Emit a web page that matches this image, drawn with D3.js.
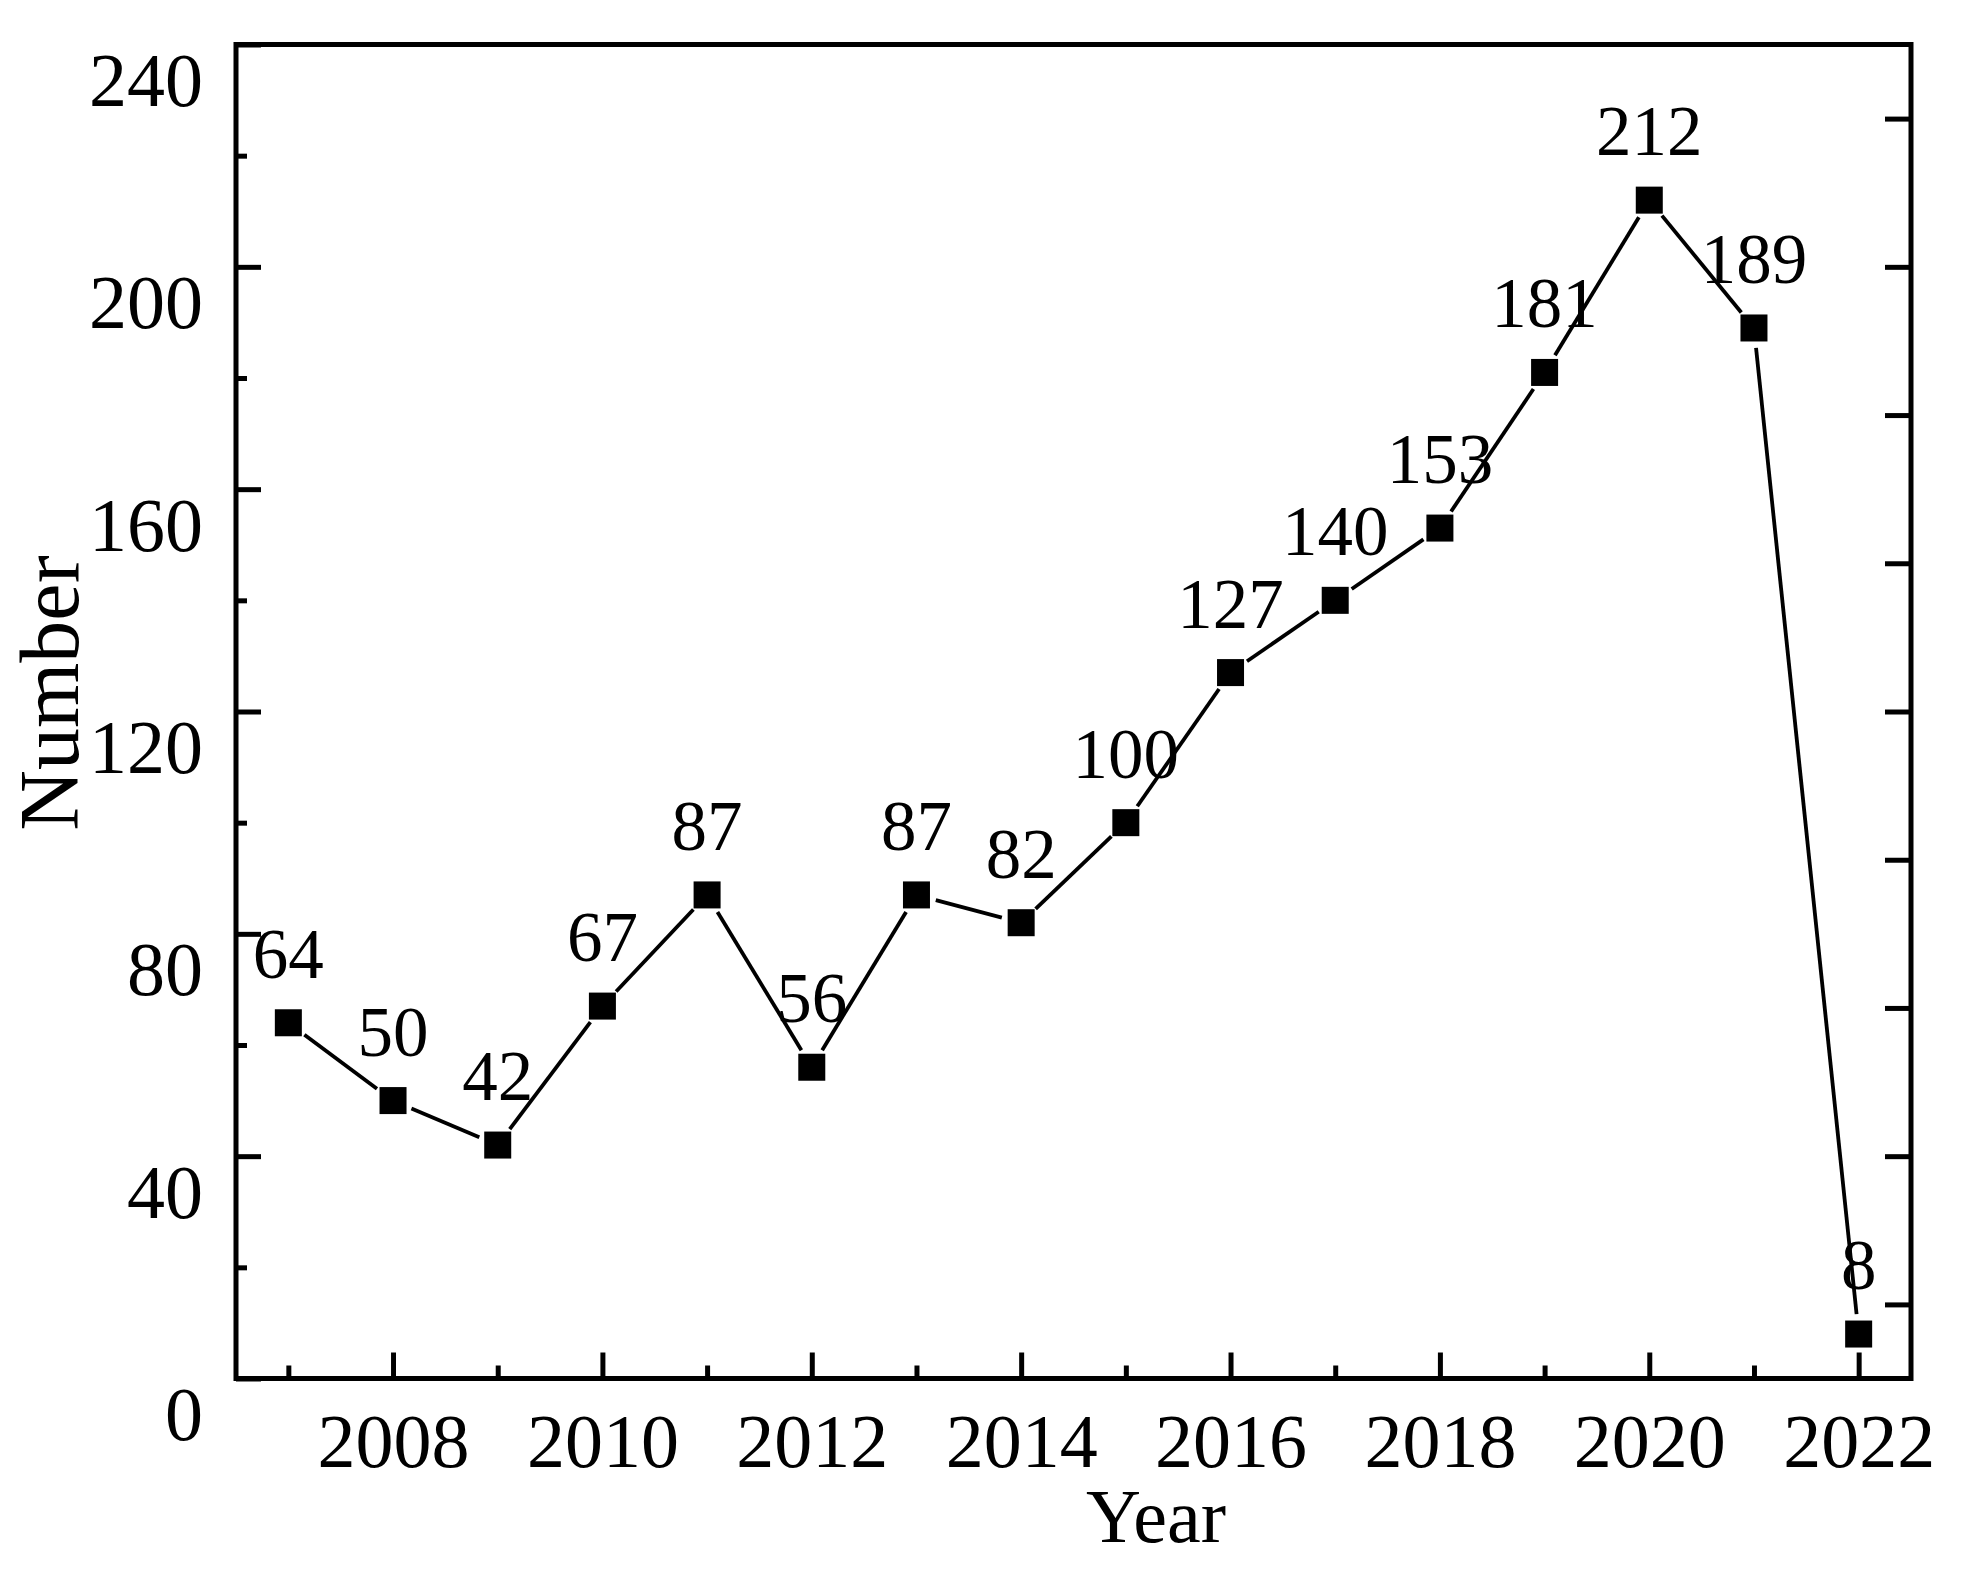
<!DOCTYPE html>
<html>
<head>
<meta charset="utf-8">
<script src="https://cdn.jsdelivr.net/npm/d3@7"></script>
<style>
  html, body { margin: 0; padding: 0; background: #fff; }
  svg { display: block; }
</style>
</head>
<body>
<svg id="chart" width="1968" height="1571"></svg>
<script>
// ---- data ----
const years = [2007, 2008, 2009, 2010, 2011, 2012, 2013, 2014, 2015, 2016, 2017, 2018, 2019, 2020, 2021, 2022];
const counts = [64, 50, 42, 67, 87, 56, 87, 82, 100, 127, 140, 153, 181, 212, 189, 8];
const xMajorTicks = [2008, 2010, 2012, 2014, 2016, 2018, 2020, 2022];
const xMinorTicks = [2007, 2009, 2011, 2013, 2015, 2017, 2019, 2021];
const yMajorTicks = [0, 40, 80, 120, 160, 200, 240];
const yMinorTicks = [20, 60, 100, 140, 180, 220];
const yRightTicks = [13.33, 40, 66.67, 93.33, 120, 146.67, 173.33, 200, 226.67];
const xTitle = "Year";
const yTitle = "Number";

// ---- layout ----
const L = 236, R = 1911, T = 44.5, B = 1378.5;
const FONT = "'Liberation Serif', 'Times New Roman', serif";
const svg = d3.select("#chart");

const x = d3.scaleLinear().domain([2006.5, 2022.5]).range([L, R]);
const y = d3.scaleLinear().domain([0, 240]).range([B, T]);

function styleAxis(g) {
  g.attr("font-family", FONT);
  g.select(".domain").remove();
  g.selectAll(".tick line").attr("stroke", "#000").attr("stroke-width", 5);
}

// bottom major
const gxMaj = svg.append("g").attr("transform", `translate(0,${B})`)
  .call(d3.axisBottom(x).tickValues(xMajorTicks).tickSize(-26).tickFormat(d3.format("d")));
styleAxis(gxMaj);
gxMaj.selectAll(".tick text")
  .attr("y", null).attr("dy", null)
  .attr("fill", "#000").attr("font-size", 76)
  .attr("text-anchor", "middle")
  .attr("transform", "translate(0,88)");

// bottom minor
const gxMin = svg.append("g").attr("transform", `translate(0,${B})`)
  .call(d3.axisBottom(x).tickValues(xMinorTicks).tickSize(-13).tickFormat(""));
styleAxis(gxMin);

// left major
const gyMaj = svg.append("g").attr("transform", `translate(${L},0)`)
  .call(d3.axisLeft(y).tickValues(yMajorTicks).tickSize(-25).tickFormat(d3.format("d")));
styleAxis(gyMaj);
gyMaj.selectAll(".tick text")
  .attr("x", null).attr("dy", null)
  .attr("fill", "#000").attr("font-size", 76)
  .attr("text-anchor", "end")
  .attr("transform", "translate(-33,61)");

// left minor
const gyMin = svg.append("g").attr("transform", `translate(${L},0)`)
  .call(d3.axisLeft(y).tickValues(yMinorTicks).tickSize(-11).tickFormat(""));
styleAxis(gyMin);

// right ticks
const gyR = svg.append("g").attr("transform", `translate(${R},0)`)
  .call(d3.axisRight(y).tickValues(yRightTicks).tickSize(-26).tickFormat(""));
styleAxis(gyR);

// frame
svg.append("rect")
  .attr("x", L).attr("y", T).attr("width", R - L).attr("height", B - T)
  .attr("fill", "none").attr("stroke", "#000").attr("stroke-width", 5);

// data
const pts = years.map((yr, i) => ({ yr, v: counts[i], px: x(yr), py: y(counts[i]) }));

// line segments with gaps around markers
const GAP = 20;
const segs = d3.pairs(pts).map(([a, b]) => {
  const dx = b.px - a.px, dy = b.py - a.py;
  const len = Math.hypot(dx, dy);
  const ux = dx / len, uy = dy / len;
  return { x1: a.px + ux * GAP, y1: a.py + uy * GAP, x2: b.px - ux * GAP, y2: b.py - uy * GAP };
});
svg.append("g").selectAll("line").data(segs).join("line")
  .attr("x1", d => d.x1).attr("y1", d => d.y1)
  .attr("x2", d => d.x2).attr("y2", d => d.y2)
  .attr("stroke", "#000").attr("stroke-width", 3.8);

// markers
const MS = 27;
svg.append("g").selectAll("rect").data(pts).join("rect")
  .attr("x", d => d.px - MS / 2).attr("y", d => d.py - MS / 2)
  .attr("width", MS).attr("height", MS).attr("fill", "#000");

// value labels
svg.append("g").selectAll("text").data(pts).join("text")
  .attr("transform", d => `translate(${d.px},${d.py - 45})`)
  .attr("text-anchor", "middle")
  .attr("font-family", FONT).attr("font-size", 71).attr("fill", "#000")
  .text(d => d.v);

// axis titles
svg.append("text")
  .attr("transform", "translate(1156,1542)")
  .attr("text-anchor", "middle")
  .attr("font-family", FONT).attr("font-size", 76).attr("fill", "#000")
  .text(xTitle);

svg.append("text")
  .attr("transform", "translate(78,693) rotate(-90)")
  .attr("text-anchor", "middle")
  .attr("font-family", FONT).attr("font-size", 84).attr("fill", "#000")
  .text(yTitle);
</script>
</body>
</html>
